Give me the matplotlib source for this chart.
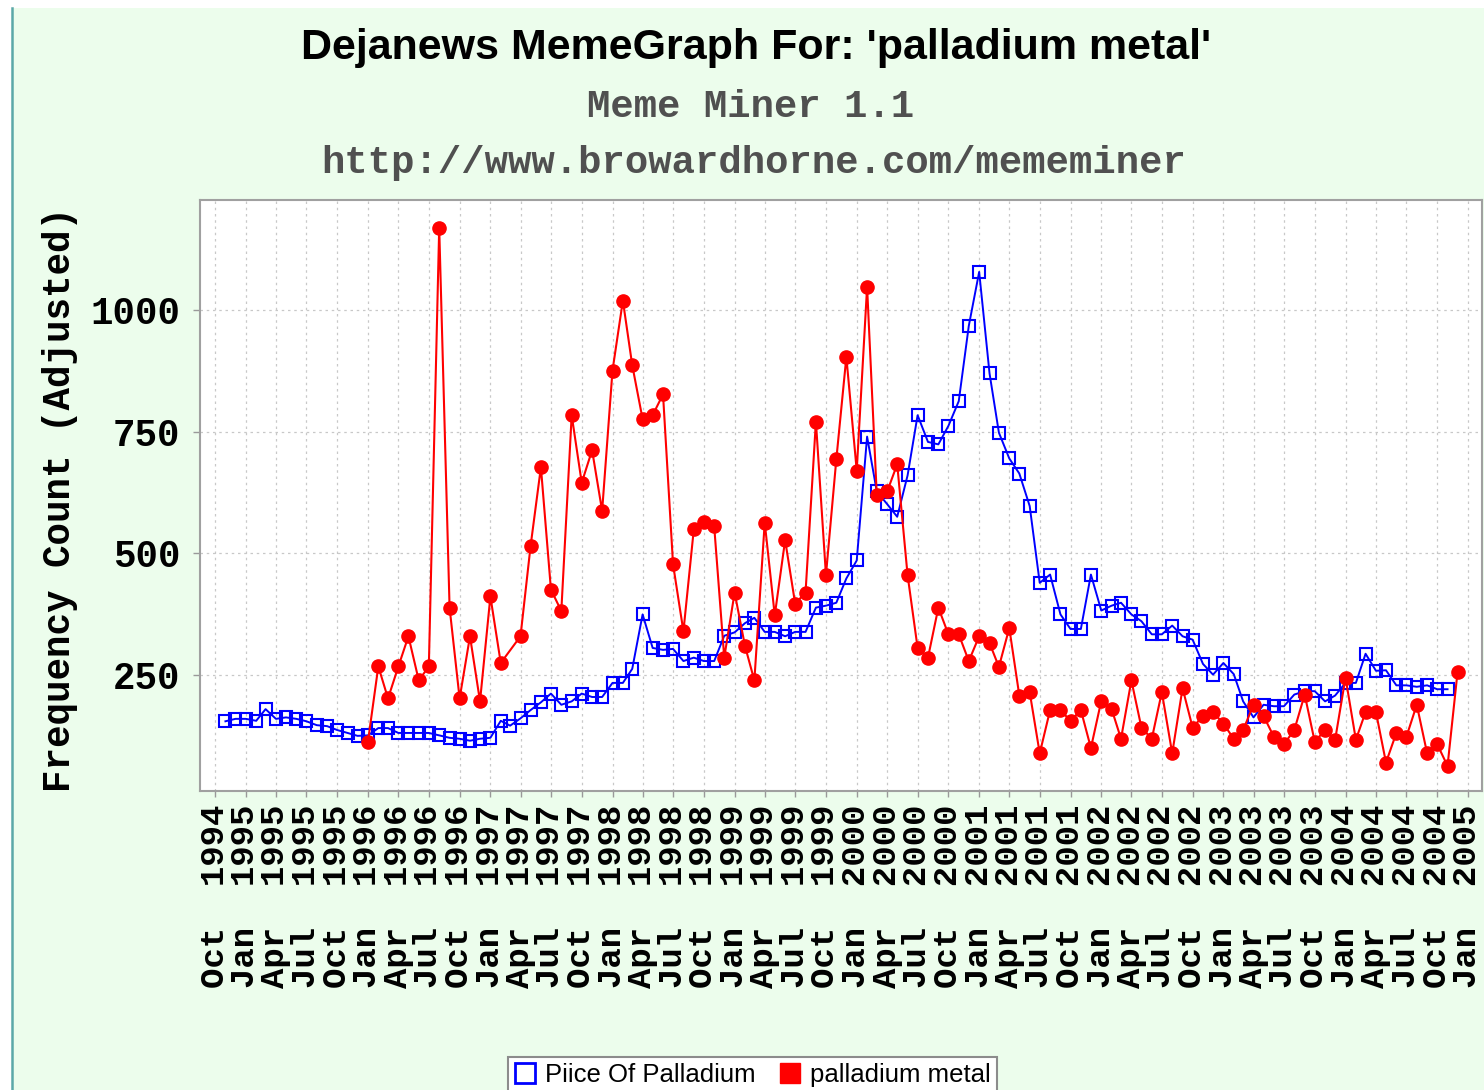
"""
Dejanews MemeGraph for 'palladium metal' (Meme Miner 1.1)
Monthly price of palladium vs. adjusted frequency count of the phrase.
"""

import numpy as np
import pandas as pd
import matplotlib
matplotlib.use("Agg")
import matplotlib.pyplot as plt
from matplotlib.lines import Line2D
from matplotlib.patches import Rectangle

# ---- data ----
# Price Of Palladium, monthly Nov 1994 .. Nov 2004
price_start = "1994-11-01"
price_values = [
    154, 159,
    159, 155, 179, 159, 162, 159, 154, 146, 144, 136, 130, 124,   # 1995
    125, 140, 140, 130, 130, 130, 130, 125, 120, 118, 114, 118,   # 1996
    120, 155, 145, 160, 177, 193, 211, 188, 195, 211, 204, 204,   # 1997
    233, 233, 262, 374, 305, 301, 303, 278, 285, 278, 278, 330,   # 1998
    337, 356, 367, 338, 338, 329, 338, 338, 388, 392, 398, 448,   # 1999
    485, 740, 627, 601, 575, 660, 784, 729, 724, 762, 813, 968,   # 2000
    1079, 870, 748, 695, 664, 597, 439, 456, 374, 344, 344, 456,  # 2001
    382, 392, 398, 374, 360, 333, 333, 351, 329, 322, 272, 250,   # 2002
    274, 251, 195, 162, 188, 185, 185, 209, 216, 216, 195, 207,   # 2003
    233, 233, 293, 258, 259, 228, 228, 225, 228, 220, 220,        # 2004
]

# palladium metal, monthly Jan 1996 .. Dec 2004 (Mar 1997 has no value)
meme_start = "1996-01-01"
meme_values = [
    112, 267, 201, 267, 329, 238, 267, 1170, 388, 201, 329, 195,  # 1996
    411, 274, np.nan, 329, 514, 677, 425, 381, 784, 645, 712, 587,  # 1997
    876, 1020, 887, 776, 784, 827, 477, 339, 549, 565, 555, 285,  # 1998
    419, 309, 238, 563, 372, 527, 396, 419, 771, 455, 693, 904,   # 1999
    670, 1048, 619, 627, 683, 455, 305, 285, 388, 333, 333, 278,  # 2000
    329, 315, 266, 346, 207, 214, 88, 177, 177, 155, 177, 99,     # 2001
    196, 179, 118, 238, 141, 118, 214, 88, 222, 141, 165, 173,    # 2002
    149, 118, 136, 188, 165, 122, 107, 136, 209, 112, 136, 116,   # 2003
    244, 116, 173, 173, 69, 130, 122, 188, 88, 107, 62, 256,      # 2004
]

y_ticks = [250, 500, 750, 1000]
title = "Dejanews MemeGraph For: 'palladium metal'"
subtitle = "Meme Miner 1.1"
url = "http://www.browardhorne.com/mememiner"
ylabel = "Frequency Count (Adjusted)"
legend_labels = ["Piice Of Palladium", "palladium metal"]

# ---- layout ----
W, H = 1484, 1090
BG = "#ECFDEC"
MONO = ["Liberation Mono", "DejaVu Sans Mono"]
SANS = ["Liberation Sans", "DejaVu Sans"]


def fx(x):
    return x / W


def fy(y):
    return 1 - y / H


fig = plt.figure(figsize=(W / 100, H / 100), dpi=100, facecolor="white")
# green panel with a teal rule on the left, white strip at top/left
fig.patches.append(Rectangle((fx(12), 0), 1 - fx(12), fy(8), transform=fig.transFigure,
                             facecolor=BG, edgecolor="none", zorder=-10))
fig.lines.append(Line2D([fx(11.5), fx(11.5)], [0, fy(8)], transform=fig.transFigure,
                        color="#5BA8A8", lw=1.8))

ax = fig.add_axes([fx(200), fy(791), fx(1482) - fx(200), fy(200) - fy(791)])
ax.set_facecolor("white")

price_dates = pd.date_range(price_start, periods=len(price_values), freq="MS")
meme_dates = pd.date_range(meme_start, periods=len(meme_values), freq="MS")
meme_arr = np.array(meme_values, dtype=float)
ok = ~np.isnan(meme_arr)

ax.plot(price_dates, price_values, color="#0000FF", lw=1.4, marker="s", ms=8.8,
        mfc="none", mec="#0000FF", mew=1.5, zorder=3)
ax.plot(meme_dates[ok], meme_arr[ok], color="#FF0000", lw=1.5, marker="o", ms=9.5,
        mfc="#FF0000", mec="#FF0000", zorder=4)

# axes ranges
x_left = pd.Timestamp("1994-10-01") - pd.Timedelta(days=45)
x_right = pd.Timestamp("2005-01-01") + pd.Timedelta(days=42)
ax.set_xlim(x_left, x_right)
ax.set_ylim(10.5, 1227)

quarters = pd.date_range("1994-10-01", "2005-01-01", freq="QS")
ax.set_xticks(quarters)
ax.set_xticklabels([d.strftime("%b  %Y") for d in quarters], rotation=90,
                   family=MONO, fontweight="bold", fontsize=24.5, va="top", ha="center")
ax.set_yticks(y_ticks)
ax.set_yticklabels([str(v) for v in y_ticks], family=MONO, fontweight="bold", fontsize=27)

ax.tick_params(axis="x", length=4, width=1, color="#999999", pad=6)
ax.tick_params(axis="y", length=5, width=1, color="#999999", pad=9)

ax.grid(True, color="#C8C8C8", linestyle=(0, (2, 3)), linewidth=0.9)
ax.set_axisbelow(True)
for sp in ax.spines.values():
    sp.set_color("#A0A0A0")
    sp.set_linewidth(1.5)

# titles
fig.text(fx(756), fy(48), title, ha="center", va="center", family=SANS,
         fontweight="bold", fontsize=31)
fig.text(fx(751), fy(107), subtitle, ha="center", va="center", family=MONO,
         fontweight="bold", fontsize=28, color="#505050")
fig.text(fx(754), fy(163), url, ha="center", va="center", family=MONO,
         fontweight="bold", fontsize=28, color="#505050")
fig.text(fx(60), fy(500), ylabel, ha="center", va="center", rotation=90,
         family=MONO, fontweight="bold", fontsize=27)

# legend (partly cut off at the bottom, as in the original)
handles = [
    Line2D([], [], ls="none", marker="s", ms=15, mfc="white", mec="#0000FF", mew=2),
    Line2D([], [], ls="none", marker="s", ms=15, mfc="#FF0000", mec="#FF0000", mew=1),
]
leg = fig.legend(handles, legend_labels, loc="upper left",
                 bbox_to_anchor=(fx(508), fy(1057)), ncol=2, frameon=True,
                 fancybox=False, edgecolor="#8C8C8C", facecolor="white", framealpha=1,
                 prop={"family": SANS, "size": 18.5}, handlelength=0.85,
                 handletextpad=0.35, columnspacing=0.9, borderpad=0.25,
                 borderaxespad=0)
leg.get_frame().set_linewidth(1.5)

fig.savefig("out.png", dpi=100, facecolor="white")
